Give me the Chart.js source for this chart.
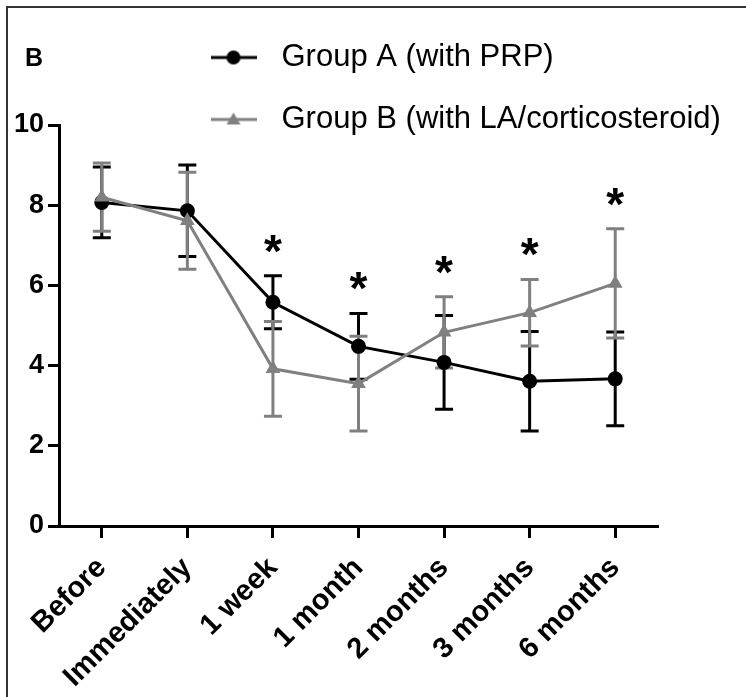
<!DOCTYPE html>
<html>
<head>
<meta charset="utf-8">
<script src="https://cdn.jsdelivr.net/npm/chart.js@4.4.1/dist/chart.umd.min.js"></script>
<style>
  html, body { margin: 0; padding: 0; background: #fff; }
  #wrap { position: relative; width: 746px; height: 697px; overflow: hidden; }
  #frame { position: absolute; left: 6px; top: 6px; right: -4px; bottom: -4px; border-top: 2px solid #333; border-left: 2px solid #333; }
  canvas { position: absolute; left: 0; top: 0; }
</style>
</head>
<body>
<div id="wrap">
  <div id="frame"></div>
  <canvas id="chart" width="746" height="697"></canvas>
</div>
<script>
const timepoints = ['Before', 'Immediately', '1 week', '1 month', '2 months', '3 months', '6 months'];
const groupA = [8.07, 7.86, 5.58, 4.48, 4.08, 3.61, 3.67];
const groupAsd = [0.88, 1.14, 0.66, 0.82, 1.17, 1.24, 1.17];
const groupB = [8.2, 7.61, 3.92, 3.55, 4.83, 5.32, 6.05];
const groupBsd = [0.85, 1.21, 1.18, 1.18, 0.89, 0.83, 1.36];
const significant = [false, false, true, true, true, true, true];

const FONT = "'Liberation Sans', Arial, Helvetica, sans-serif";
const black = '#000000';
const grey = '#808080';

// little line+marker pictures for the legend
function legendIcon(color, shape) {
  const c = document.createElement('canvas');
  c.width = 46; c.height = 18;
  const g = c.getContext('2d');
  g.strokeStyle = color; g.fillStyle = color; g.lineWidth = 3;
  g.beginPath(); g.moveTo(0, 9); g.lineTo(46, 9); g.stroke();
  g.beginPath();
  if (shape === 'circle') {
    g.arc(23, 9, 7, 0, Math.PI * 2);
  } else {
    g.moveTo(23, 2); g.lineTo(30, 14); g.lineTo(16, 14); g.closePath();
  }
  g.fill();
  return c;
}
const icons = [legendIcon(black, 'circle'), legendIcon(grey, 'triangle')];

// error bars, the panel letter and the significance stars
const extras = {
  id: 'extras',
  afterLayout(chart) {
    // legend sits to the right of the letter and overlaps the plot top
    const lg = chart.legend;
    lg.left = 170; lg.right = 746; lg.width = 576;
    lg.bottom = 160; lg.height = lg.bottom - lg.top;
  },
  beforeDatasetsDraw(chart) {
    const ctx = chart.ctx;
    const y = chart.scales.y;
    [[groupA, groupAsd], [groupB, groupBsd]].forEach(([m, sd], i) => {
      const meta = chart.getDatasetMeta(i);
      ctx.save();
      ctx.strokeStyle = chart.data.datasets[i].borderColor;
      ctx.lineWidth = 3;
      meta.data.forEach((pt, j) => {
        const hi = y.getPixelForValue(m[j] + sd[j]);
        const lo = y.getPixelForValue(m[j] - sd[j]);
        ctx.beginPath();
        ctx.moveTo(pt.x, hi); ctx.lineTo(pt.x, lo);
        ctx.moveTo(pt.x - 9, hi); ctx.lineTo(pt.x + 9, hi);
        ctx.moveTo(pt.x - 9, lo); ctx.lineTo(pt.x + 9, lo);
        ctx.stroke();
      });
      ctx.restore();
    });
  },
  afterDraw(chart) {
    const ctx = chart.ctx;
    const x = chart.scales.x, y = chart.scales.y;
    ctx.save();
    ctx.fillStyle = '#000';
    ctx.font = 'bold 25px ' + FONT;
    ctx.textAlign = 'left';
    ctx.textBaseline = 'alphabetic';
    ctx.fillText('B', 25, 66);

    ctx.font = 'bold 46px ' + FONT;
    ctx.textAlign = 'center';
    const m = ctx.measureText('*');
    const shift = (m.actualBoundingBoxAscent - m.actualBoundingBoxDescent) / 2;
    significant.forEach((s, j) => {
      if (!s) return;
      const top = Math.min(y.getPixelForValue(groupA[j] + groupAsd[j]),
                           y.getPixelForValue(groupB[j] + groupBsd[j]));
      ctx.fillText('*', x.getPixelForValue(j), top - 32 + shift);
    });
    ctx.restore();
  }
};

const ctx = document.getElementById('chart').getContext('2d');

const chart = new Chart(ctx, {
  type: 'line',
  data: {
    labels: timepoints,
    datasets: [
      {
        label: 'Group A (with PRP)',
        data: groupA,
        borderColor: black,
        backgroundColor: black,
        borderWidth: 3,
        pointStyle: 'circle',
        pointRadius: 7.5,
        pointBorderWidth: 0,
        tension: 0,
        order: 2
      },
      {
        label: 'Group B (with LA/corticosteroid)',
        data: groupB,
        borderColor: grey,
        backgroundColor: grey,
        borderWidth: 3,
        pointStyle: 'triangle',
        pointRadius: 8.5,
        pointBorderWidth: 0,
        tension: 0,
        order: 1
      }
    ]
  },
  options: {
    responsive: false,
    animation: false,
    devicePixelRatio: 1,
    layout: { padding: { top: 11, right: 88, left: 0, bottom: 0 } },
    plugins: {
      tooltip: { enabled: false },
      legend: {
        position: 'top',
        align: 'start',
        maxHeight: 114,
        labels: {
          usePointStyle: true,
          pointStyleWidth: 65,
          padding: 31,
          color: '#000',
          font: { family: FONT, size: 31 },
          generateLabels: chart => chart.data.datasets.map((ds, i) => ({
            text: ds.label,
            fillStyle: ds.backgroundColor,
            strokeStyle: ds.borderColor,
            lineWidth: 0,
            pointStyle: icons[i],
            hidden: false,
            datasetIndex: i,
            fontColor: '#000'
          }))
        }
      }
    },
    scales: {
      x: {
        offset: true,
        afterFit: s => { s.height = 171; },
        grid: {
          offset: false,
          drawOnChartArea: false,
          tickLength: 12,
          tickWidth: 3,
          tickColor: '#000'
        },
        border: { color: '#000', width: 3 },
        ticks: {
          autoSkip: false,
          minRotation: 45,
          maxRotation: 45,
          padding: 13,
          color: '#000',
          font: { family: FONT, size: 29, weight: 'bold' }
        }
      },
      y: {
        min: 0,
        max: 10,
        afterFit: s => { s.width = 59; },
        grid: {
          drawOnChartArea: false,
          tickLength: 11,
          tickWidth: 3,
          tickColor: '#000'
        },
        border: { color: '#000', width: 3 },
        ticks: {
          stepSize: 2,
          padding: 4,
          color: '#000',
          font: { family: FONT, size: 27, weight: 'bold' }
        }
      }
    }
  },
  plugins: [extras]
});
</script>
</body>
</html>
